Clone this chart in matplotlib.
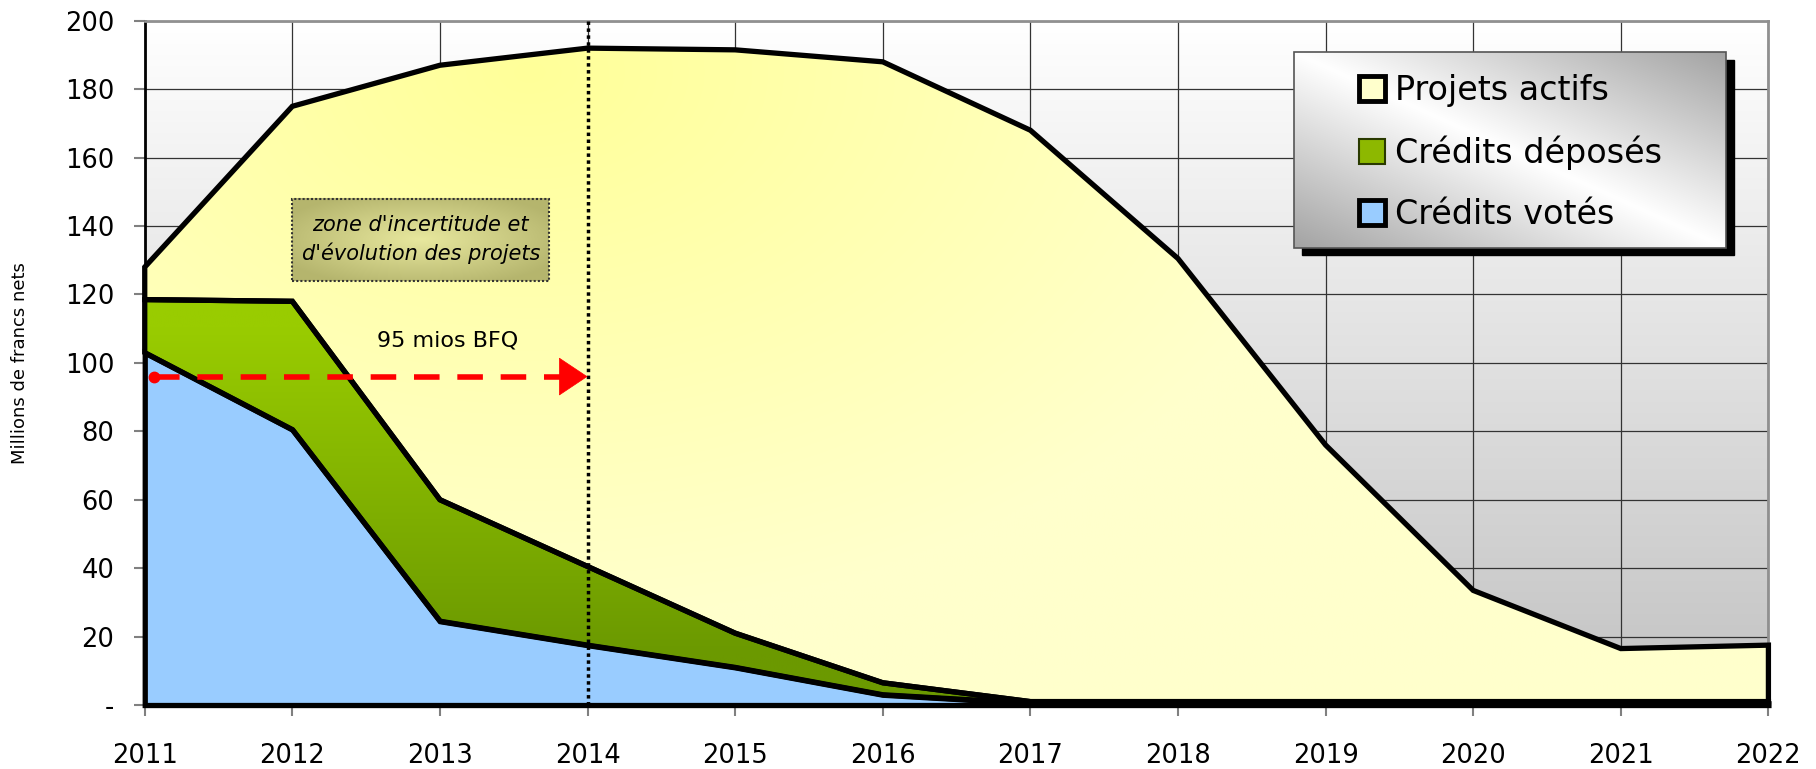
import numpy as np
import matplotlib
matplotlib.use("Agg")
import matplotlib.pyplot as plt
from matplotlib.patches import Patch, Rectangle

# --- data ---
years = [2011, 2012, 2013, 2014, 2015, 2016, 2017, 2018, 2019, 2020, 2021, 2022]
credits_votes = [103, 80.5, 24.5, 17.5, 11, 3, 0.5, 0.5, 0.5, 0.5, 0.5, 0.5]
credits_deposes = [15.5, 37.5, 35.5, 23, 10, 3.5, 0.5, 0.5, 0.5, 0.5, 0.5, 0.5]
projets_actifs = [9.5, 57, 127, 151.5, 170.5, 181.5, 167, 129.5, 75, 32.5, 15.5, 16.5]
series_labels = ["Projets actifs", "Crédits déposés", "Crédits votés"]
y_ticks = [0, 20, 40, 60, 80, 100, 120, 140, 160, 180, 200]
y_tick_labels = ["-", "20", "40", "60", "80", "100", "120", "140", "160", "180", "200"]
bfq_start, bfq_end, bfq_value = 2011, 2014, 96
bfq_label = "95 mios BFQ"
zone_text = "zone d'incertitude et\nd'évolution des projets"
zone_x0, zone_x1, zone_y0, zone_y1 = 2012.0, 2013.74, 124, 148
cutoff_year = 2014

narrow = ["Liberation Sans Narrow", "DejaVu Sans"]

fig = plt.figure(figsize=(18.16, 7.69), dpi=100)
ax = fig.add_axes([0.0797, 0.0832, 0.8941, 0.8898])
xmin, xmax, ymin, ymax = years[0], years[-1], 0, 200

# plot background: white at top to grey at bottom
g = np.linspace(194 / 255, 1, 256)[:, None, None] * np.ones((1, 2, 3))
ax.imshow(g, extent=[xmin, xmax, ymin, ymax], origin="lower", aspect="auto",
          zorder=0, interpolation="bilinear")

ax.grid(True, color="#333333", lw=0.9)
ax.set_axisbelow(True)

polys = ax.stackplot(years, credits_votes, credits_deposes, projets_actifs)
X, Y = np.meshgrid(np.linspace(xmin, xmax, 400), np.linspace(ymin, ymax, 300))

# yellow: brighter around the 2014 peak, paler elsewhere
r = np.clip(np.sqrt(((X - 2013.6) / 5.5) ** 2 + ((Y - 185) / 160) ** 2), 0, 1)[..., None]
yel = np.array([1, 1, 0.6]) * (1 - r) + np.array([1, 1, 0.8]) * r
# green: bright at top, olive toward the bottom
t = np.clip((Y - 15) / 95, 0, 1)[..., None]
grn = np.array([0.42, 0.6, 0.0]) * (1 - t) + np.array([0.6, 0.8, 0.0]) * t

for poly, img in [(polys[2], yel), (polys[1], grn)]:
    im = ax.imshow(img, extent=[xmin, xmax, ymin, ymax], origin="lower",
                   aspect="auto", zorder=2, interpolation="bilinear")
    im.set_clip_path(poly.get_paths()[0], transform=ax.transData)
    poly.set_facecolor("none")
polys[0].set_facecolor("#99CCFF")
for poly in polys:
    poly.set_edgecolor("black")
    poly.set_linewidth(3.8)
    poly.set_joinstyle("miter")
    poly.set_zorder(4 if poly is not polys[0] else 3)
    poly.set_clip_on(False)

ax.set_xlim(xmin, xmax)
ax.set_ylim(ymin, ymax)

# dotted line at 2014
ax.axvline(cutoff_year, color="black", ls=(0, (1, 1)), lw=2.5, zorder=6)

# red dashed arrow
ax.plot([bfq_start + 0.06, bfq_end - 0.13], [bfq_value, bfq_value], color="red",
        lw=4, dashes=(4.6, 3.2), zorder=7, solid_capstyle="butt")
ax.plot(bfq_start + 0.06, bfq_value, "o", color="red", ms=7.5, zorder=7)
ax.annotate("", xy=(bfq_end, bfq_value), xytext=(bfq_end - 0.16, bfq_value),
            arrowprops=dict(arrowstyle="-|>,head_length=0.9,head_width=0.6",
                            color="red", lw=0.5, shrinkA=0, shrinkB=0,
                            mutation_scale=22), zorder=7)
ax.text((bfq_start + bfq_end) / 2 + 0.55, 106.5, bfq_label, ha="center", va="center",
        fontsize=16, zorder=7)

# uncertainty box
bx, by = np.meshgrid(np.linspace(-1, 1, 120), np.linspace(-1, 1, 60))
rr = np.clip(np.sqrt(bx ** 2 + by ** 2) / 1.2, 0, 1)[..., None]
boxc = np.array([0.91, 0.91, 0.62]) * (1 - rr) + np.array([0.71, 0.71, 0.43]) * rr
ax.imshow(boxc, extent=[zone_x0, zone_x1, zone_y0, zone_y1], origin="lower",
          aspect="auto", zorder=8, interpolation="bilinear")
ax.add_patch(Rectangle((zone_x0, zone_y0), zone_x1 - zone_x0, zone_y1 - zone_y0,
                       fill=False, ec="#333333", lw=1.5, ls=(0, (1, 1)), zorder=9))
ax.text((zone_x0 + zone_x1) / 2, (zone_y0 + zone_y1) / 2, zone_text, ha="center",
        va="center", fontsize=15, style="italic", linespacing=1.45, zorder=9)

ax.set_xlim(xmin, xmax)
ax.set_ylim(ymin, ymax)

# legend with grey gradient box and shadow
lx0, lx1, ly0, ly1 = 0.708, 0.974, 0.668, 0.954
sh = Rectangle((lx0 + 0.0045, ly0 - 0.011), lx1 - lx0, ly1 - ly0, transform=ax.transAxes,
               color="black", zorder=10, clip_on=False)
ax.add_patch(sh)
u, v = np.meshgrid(np.linspace(0, 1, 200), np.linspace(0, 1, 100))
tt = np.abs(u + v - 1)[..., None]
lg = np.array([1, 1, 1]) * (1 - tt) + np.array([0.64, 0.64, 0.64]) * tt
ax.imshow(lg, extent=[lx0, lx1, ly0, ly1], transform=ax.transAxes, origin="lower",
          aspect="auto", zorder=11, interpolation="bilinear", clip_on=False)
ax.add_patch(Rectangle((lx0, ly0), lx1 - lx0, ly1 - ly0, transform=ax.transAxes,
                       fill=False, ec="#555555", lw=1.2, zorder=12, clip_on=False))
handles = [Patch(facecolor="#FFFFCC", edgecolor="black", lw=3.5),
           Patch(facecolor="#8DB800", edgecolor="#2a3a00", lw=1.5),
           Patch(facecolor="#99CCFF", edgecolor="black", lw=3.5)]
leg = ax.legend(handles, series_labels, loc="center", bbox_to_anchor=(0.841, 0.807),
                frameon=False, fontsize=24, handlelength=0.78, handleheight=0.78,
                handletextpad=0.3, labelspacing=0.85, borderpad=0)
leg.set_zorder(13)

ax.set_xlim(xmin, xmax)
ax.set_ylim(ymin, ymax)
ax.set_xticks(years)
ax.set_xticklabels([str(y) for y in years], family=narrow, fontsize=18.5)
ax.set_yticks(y_ticks)
ax.set_yticklabels(y_tick_labels, family=narrow, fontsize=18.5)
ax.tick_params(axis="x", length=8, color="#808080", width=1.5, pad=19)
ax.tick_params(axis="y", length=8, color="#808080", width=1.5, pad=14)
ax.set_ylabel("Millions de francs nets", fontsize=13, labelpad=26)

for s in ["top", "right"]:
    ax.spines[s].set_color("#909090")
    ax.spines[s].set_linewidth(2)
ax.spines["left"].set_color("black")
ax.spines["left"].set_linewidth(2)
ax.spines["bottom"].set_color("black")
ax.spines["bottom"].set_linewidth(2)

fig.savefig("out.png", dpi=100, facecolor="white")
